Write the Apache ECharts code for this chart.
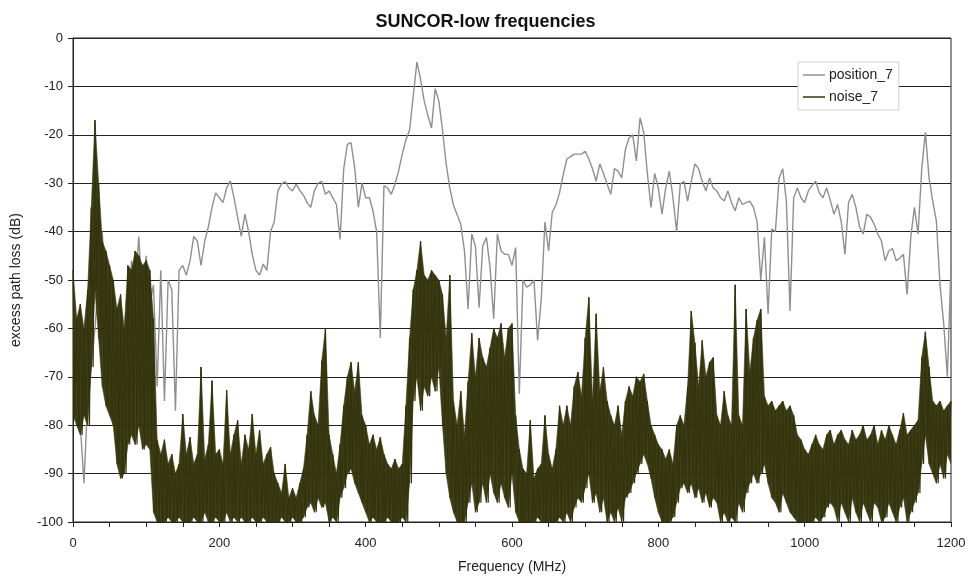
<!DOCTYPE html>
<html>
<head>
<meta charset="utf-8">
<title>SUNCOR-low frequencies</title>
<script src="https://cdn.jsdelivr.net/npm/echarts@6/dist/echarts.min.js"></script>
<style>
  html, body { margin: 0; padding: 0; background: #fff; }
  #chart { width: 971px; height: 579px; }
</style>
</head>
<body>
<div id="chart"></div>
<script>
// samples every 5 MHz, 0..1200
var freqStep = 5;
var xTicks = [0, 200, 400, 600, 800, 1000, 1200];

// position_7 (grey)
var position7 = [
  -62, -70, -80, -92, -75, -68, -60, -50, -40, -55,
  -65, -78, -85, -72, -65, -58, -46, -52, -41, -55,
  -45, -55, -51, -72, -48, -75, -50, -52, -77, -48,
  -47, -49, -46, -41, -42, -47, -42, -39, -35, -32,
  -33, -34, -31, -29.5, -33, -37, -41, -36.4, -40, -44.7,
  -48, -49, -46.7, -48, -40, -38, -31.6, -30.2, -29.6, -31,
  -31.6, -30.2, -31.5, -32.5, -34, -35, -31.5, -30, -29.6, -32.3,
  -31.6, -33, -34.4, -41.6, -27, -22, -21.6, -26.8, -35, -30,
  -33, -33, -35.7, -40, -62, -30.5, -31, -32.3, -30.2, -27.5,
  -24, -21, -19, -12, -5, -8.5, -13, -16, -18.6, -10.5,
  -13, -19, -26, -31, -34.5, -36.5, -38.5, -44, -56, -40.5,
  -43, -55.7, -43, -41.2, -47.4, -58, -40.5, -44, -44.7, -44.7,
  -47, -43.3, -73.5, -50, -51.5, -51, -50, -62.5, -54, -38,
  -44, -36, -34.5, -32, -28.2, -25, -24.5, -24, -24, -24,
  -23.4, -25, -27, -29.6, -26, -28, -30.2, -32.3, -27, -27.5,
  -28.9, -23, -20.6, -20, -25.4, -16.5, -19.5, -28, -35, -28,
  -31, -36.4, -31, -27.5, -33, -40, -30.2, -29.6, -33.7, -29.6,
  -26, -27, -29.6, -31.6, -28.9, -31, -31.6, -33, -33.7, -31.6,
  -34, -35.7, -33, -34.4, -34, -33.7, -35, -38, -50, -41.2,
  -57, -39.5, -40, -29, -27, -33.7, -56.4, -33, -31, -33,
  -34, -31.6, -30.5, -29.6, -32, -33, -31, -33.5, -36.4, -34.4,
  -38, -44.7, -34, -32.3, -35, -39, -40.5, -36.4, -37, -38.5,
  -40.5, -42, -46, -44, -43.5, -46, -45.5, -44.7, -53, -41.2,
  -35, -40.5, -27, -19.5, -28.9, -33.7, -37.8, -51, -59, -70,
  -47
];

// noise_7: upper and lower edge of the dense band, every 5 MHz
var noise7High = [
  -48, -58, -55, -60, -52, -35, -17, -30, -42, -44,
  -47, -50, -56, -53, -60, -47, -48, -44, -45, -47,
  -46, -48, -58, -83, -86, -83, -88, -86, -90, -88,
  -77.7, -86, -82.5, -88, -86, -68, -87, -84, -70.8, -86,
  -85, -88, -72.8, -86, -82, -79, -88, -82, -85, -77.7,
  -86, -81, -88, -86, -84.5, -90, -92, -94, -88, -95,
  -93, -95, -92, -89, -82, -73, -78, -80, -66.7, -60,
  -82, -86, -90, -84, -76, -70, -67, -73, -67, -78,
  -80, -84, -82, -85, -82.5, -86, -88, -89, -87, -89,
  -88, -76, -62, -52, -48, -42, -49, -50, -48, -49,
  -50, -53, -62, -49, -75, -80, -73, -82, -71, -61,
  -70, -62, -66, -68, -64, -60, -62, -59, -66, -60,
  -59, -78, -85, -89, -90, -79, -91, -89, -88, -78,
  -86, -89, -85, -76, -80, -76, -80, -72, -69, -74,
  -62, -53.6, -75, -57, -73, -68, -75, -78, -80, -76,
  -82, -75, -72, -74, -70, -71, -69.4, -75, -80, -82,
  -84, -85, -87, -85, -88, -80, -78, -80, -72, -56.4,
  -63, -72, -62.5, -70, -67, -66, -78, -80, -73, -78,
  -80, -51, -78, -80, -56, -69, -62, -58.3, -56, -74,
  -76, -75, -77, -76, -75, -77, -76, -78, -82, -83,
  -85, -86, -84, -82, -84, -85, -82, -81, -84, -82,
  -81, -83, -84, -81, -83, -82, -80, -83, -82, -80,
  -84, -81, -83, -80, -82, -84, -81, -77.5, -82, -81,
  -80, -79, -66, -60.7, -68, -75, -76, -75, -77, -76,
  -75
];

var noise7Low = [
  -78, -80, -82, -78, -80, -68, -52, -62, -72, -76,
  -78, -80, -88, -91, -90, -84, -82, -84, -80, -85,
  -84, -85, -98, -100, -100, -100, -99, -100, -100, -99,
  -100, -100, -100, -99, -100, -100, -98, -100, -100, -99,
  -100, -100, -98, -100, -99, -100, -99, -100, -100, -99,
  -100, -100, -99, -100, -100, -100, -100, -99, -100, -100,
  -99, -100, -100, -99, -97, -96, -98, -95, -97, -96,
  -100, -99, -100, -95, -93, -90, -89, -92, -94, -96,
  -98, -100, -99, -100, -100, -100, -99, -100, -100, -100,
  -99, -100, -92, -75, -70, -77, -72, -74, -70, -73,
  -68, -80, -90, -95, -98, -100, -100, -100, -96, -92,
  -98, -96, -92, -96, -90, -94, -96, -92, -95, -97,
  -90, -98, -100, -100, -100, -100, -100, -99, -100, -100,
  -100, -100, -100, -99, -100, -98, -100, -97, -95, -96,
  -93, -90, -96, -94, -98, -95, -100, -98, -100, -97,
  -100, -95, -94, -92, -90, -88, -86, -88, -91, -95,
  -98, -100, -100, -100, -99, -96, -93, -92, -94, -92,
  -95, -93, -96, -94, -97, -95, -96, -100, -98, -100,
  -99, -100, -96, -98, -94, -92, -90, -92, -90, -88,
  -92, -95, -96, -98, -94, -96, -98, -99, -100, -100,
  -100, -100, -100, -99, -100, -99, -97, -96, -97, -100,
  -96, -98, -100, -95, -98, -100, -96, -98, -100, -96,
  -97, -100, -99, -96, -98, -100, -97, -95, -100, -98,
  -96, -94, -88, -82, -88, -90, -92, -88, -91, -86,
  -88
];

var noiseColor = '#33330c';
var posData = position7.map(function (v, i) { return [i * freqStep, v]; });

// one quad per 5 MHz step between the low and high edges
var bandData = [];
for (var k = 0; k < noise7High.length - 1; k++) {
    bandData.push([k * freqStep, noise7High[k], noise7Low[k],
                   (k + 1) * freqStep, noise7High[k + 1], noise7Low[k + 1]]);
}

// zig-zag trace between the two edges for the ragged look
var noiseData = [];
for (var i = 0; i < noise7High.length; i++) {
    noiseData.push([i * freqStep, noise7High[i]]);
    if (i < noise7High.length - 1) noiseData.push([i * freqStep + freqStep / 2, noise7Low[i]]);
}

function renderBand(params, api) {
    var a = api.coord([api.value(0), api.value(1)]);
    var b = api.coord([api.value(3), api.value(4)]);
    var c = api.coord([api.value(3), api.value(5)]);
    var d = api.coord([api.value(0), api.value(2)]);
    return {
        type: 'polygon',
        shape: { points: [a, b, c, d] },
        style: { fill: noiseColor, stroke: noiseColor, lineWidth: 0.6, opacity: 0.95 }
    };
}

var myChart = echarts.init(document.getElementById('chart'));
var option = {
    animation: false,
    backgroundColor: '#fff',
    title: {
        text: 'SUNCOR-low frequencies',
        left: 'center',
        top: 8,
        textStyle: { fontFamily: 'Arial', fontSize: 18, fontWeight: 'bold', color: '#111' }
    },
    legend: {
        orient: 'vertical',
        left: 798,
        top: 62,
        padding: [6, 6, 6, 5],
        itemGap: 8,
        itemWidth: 22,
        itemHeight: 1.5,
        icon: 'rect',
        backgroundColor: '#fff',
        borderColor: '#d0d0d0',
        borderWidth: 1,
        textStyle: { fontFamily: 'Arial', fontSize: 14, color: '#222', padding: [0, 0, 0, -1] },
        data: ['position_7', 'noise_7']
    },
    grid: {
        left: 73,
        right: 20,
        top: 38,
        bottom: 57,
        show: true,
        borderColor: '#222',
        borderWidth: 1
    },
    xAxis: {
        type: 'value',
        min: 0,
        max: 1200,
        interval: 50,
        name: 'Frequency (MHz)',
        nameLocation: 'middle',
        nameGap: 38,
        nameTextStyle: { fontFamily: 'Arial', fontSize: 14, color: '#222' },
        axisLine: { show: true, onZero: false, lineStyle: { color: '#222' } },
        axisTick: { show: true, length: 5, lineStyle: { color: '#222' } },
        axisLabel: {
            margin: 15,
            fontFamily: 'Arial',
            fontSize: 13,
            color: '#222',
            formatter: function (v) { return xTicks.indexOf(v) >= 0 ? String(v) : ''; }
        },
        splitLine: { show: false }
    },
    yAxis: {
        type: 'value',
        min: -100,
        max: 0,
        interval: 10,
        name: 'excess path loss (dB)',
        nameLocation: 'middle',
        nameGap: 50,
        nameTextStyle: { fontFamily: 'Arial', fontSize: 14, color: '#222' },
        axisLine: { show: true, onZero: false, lineStyle: { color: '#222' } },
        axisTick: { show: true, length: 5, lineStyle: { color: '#222' } },
        axisLabel: { margin: 10, fontFamily: 'Arial', fontSize: 13, color: '#222' },
        splitLine: { show: true, lineStyle: { color: '#222', width: 1 } }
    },
    series: [
        {
            name: 'position_7',
            type: 'line',
            showSymbol: false,
            symbol: 'none',
            z: 2,
            lineStyle: { color: '#8f8f8f', width: 1.4 },
            itemStyle: { color: '#8f8f8f' },
            data: posData
        },
        {
            name: 'noiseBand',
            type: 'custom',
            silent: true,
            clip: true,
            z: 3,
            renderItem: renderBand,
            encode: { x: [0, 3], y: [1, 2, 4, 5] },
            data: bandData
        },
        {
            name: 'noise_7',
            type: 'line',
            showSymbol: false,
            symbol: 'none',
            z: 4,
            lineStyle: { color: noiseColor, width: 1.2 },
            itemStyle: { color: noiseColor },
            data: noiseData
        }
    ]
};
myChart.setOption(option);
</script>
</body>
</html>
